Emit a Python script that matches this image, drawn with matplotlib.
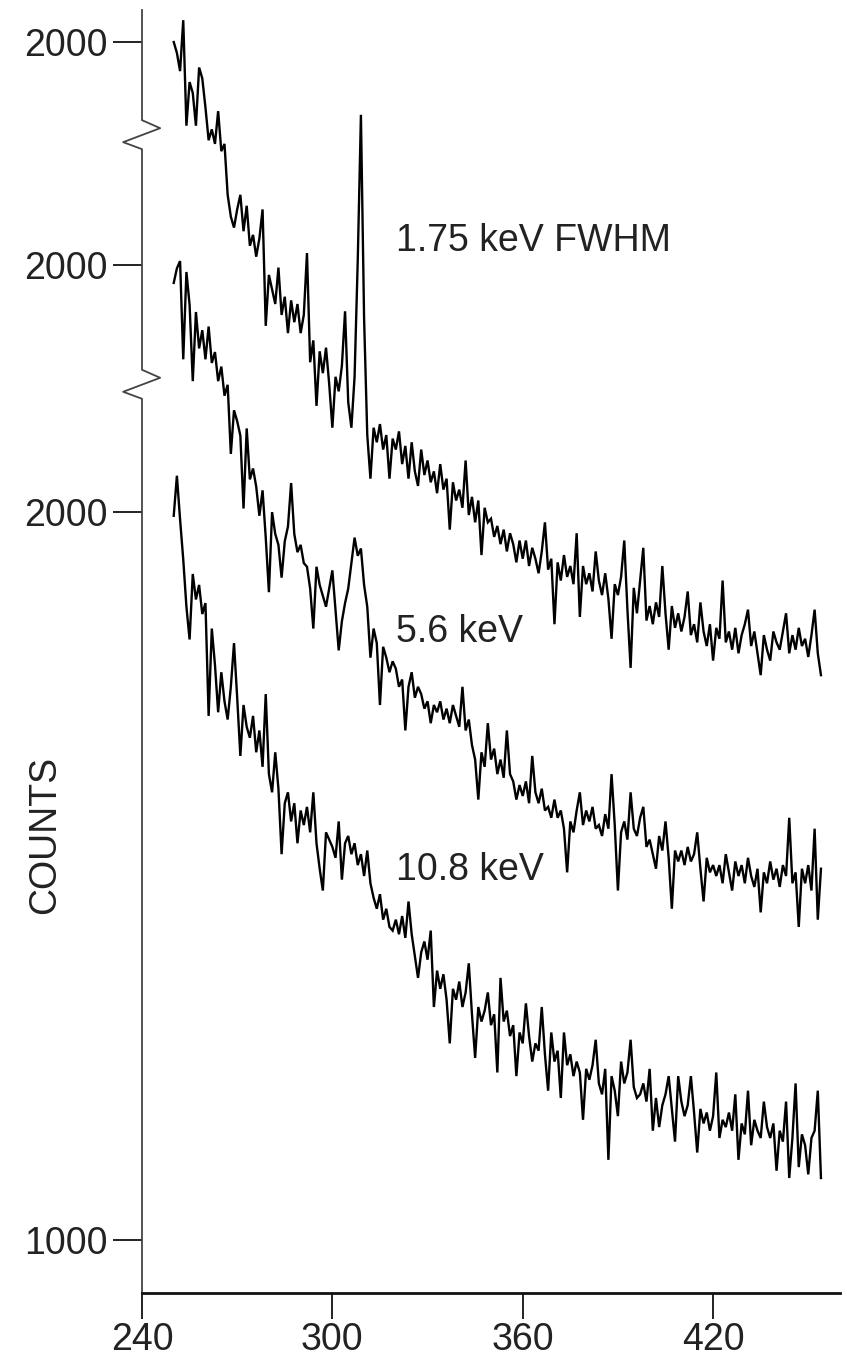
import numpy as np
import matplotlib
matplotlib.use("Agg")
import matplotlib.pyplot as plt
import matplotlib.transforms as mtransforms

plt.rcParams['font.family'] = ['Liberation Sans', 'DejaVu Sans']

# ---------------- data ----------------
channel_start = 250  # first channel of every trace (one value per channel)

counts_175 = [
    2000, 1985, 1960, 2030, 1885, 1945, 1930, 1885, 1965, 1950,
    1910, 1865, 1880, 1860, 1905, 1850, 1860, 1790, 1760, 1745,
    1770, 1790, 1740, 1775, 1720, 1735, 1705, 1730, 1770, 1610,
    1680, 1660, 1640, 1690, 1625, 1650, 1600, 1645, 1615, 1640,
    1600, 1625, 1710, 1560, 1590, 1500, 1575, 1545, 1580, 1530,
    1470, 1540, 1520, 1555, 1630, 1505, 1470, 1540, 1700, 1900,
    1620, 1460, 1400, 1470, 1450, 1475, 1440, 1460, 1400, 1455,
    1440, 1465, 1420, 1445, 1400, 1450, 1410, 1390, 1440, 1405,
    1425, 1395, 1410, 1380, 1420, 1385, 1400, 1330, 1395, 1370,
    1385, 1360, 1425, 1350, 1375, 1340, 1370, 1295, 1360, 1340,
    1345, 1320, 1335, 1310, 1330, 1300, 1325, 1310, 1285, 1315,
    1290, 1315, 1280, 1305, 1290, 1270, 1300, 1340, 1275, 1290,
    1200, 1285, 1260, 1295, 1265, 1280, 1255, 1325, 1210, 1280,
    1255, 1270, 1245, 1300, 1260, 1240, 1270, 1235, 1180, 1255,
    1240, 1265, 1315, 1220, 1140, 1250, 1215, 1260, 1305, 1205,
    1225, 1200, 1230, 1210, 1280, 1215, 1165, 1225, 1195, 1215,
    1190, 1210, 1245, 1185, 1200, 1175, 1230, 1190, 1170, 1200,
    1150, 1195, 1180, 1260, 1175, 1190, 1165, 1195, 1160, 1185,
    1200, 1220, 1170, 1190, 1160, 1130, 1185, 1165, 1150, 1190,
    1175, 1165, 1190, 1215, 1160, 1185, 1165, 1195, 1170, 1180,
    1155, 1185, 1220, 1160, 1130,
]

counts_56 = [
    1975, 1995, 2005, 1870, 1990, 1945, 1840, 1935, 1885, 1910,
    1870, 1915, 1865, 1880, 1840, 1860, 1820, 1835, 1740, 1800,
    1785, 1765, 1665, 1775, 1705, 1720, 1695, 1655, 1690, 1625,
    1550, 1660, 1630, 1615, 1570, 1620, 1640, 1700, 1630, 1605,
    1615, 1590, 1585, 1555, 1500, 1585, 1560, 1545, 1530, 1555,
    1580, 1525, 1470, 1510, 1535, 1555, 1590, 1625, 1600, 1610,
    1560, 1530, 1460, 1500, 1480, 1395, 1475, 1460, 1440, 1455,
    1445, 1420, 1430, 1360, 1420, 1440, 1405, 1420, 1410, 1390,
    1400, 1370, 1395, 1385, 1400, 1375, 1390, 1370, 1395, 1380,
    1365, 1420, 1360, 1375, 1340, 1320, 1265, 1330, 1310, 1370,
    1320, 1335, 1300, 1320, 1295, 1360, 1300, 1290, 1265, 1285,
    1270, 1290, 1260, 1325, 1275, 1260, 1280, 1250, 1255, 1240,
    1265, 1240, 1250, 1225, 1165, 1235, 1220, 1250, 1275, 1230,
    1250, 1235, 1255, 1225, 1230, 1215, 1245, 1225, 1300, 1230,
    1140, 1220, 1235, 1210, 1275, 1225, 1215, 1240, 1255, 1200,
    1210, 1190, 1170, 1215, 1195, 1235, 1185, 1115, 1195, 1180,
    1195, 1175, 1200, 1180, 1190, 1220, 1170, 1125, 1185, 1165,
    1175, 1160, 1175, 1150, 1190, 1165, 1140, 1180, 1160, 1175,
    1150, 1185, 1160, 1145, 1170, 1110, 1165, 1150, 1180, 1155,
    1170, 1145, 1175, 1160, 1240, 1150, 1165, 1090, 1170, 1150,
    1175, 1140, 1225, 1100, 1170,
]

counts_108 = [
    1995, 2050, 1990, 1935, 1870, 1825, 1915, 1880, 1900, 1860,
    1875, 1720, 1840, 1790, 1725, 1780, 1740, 1715, 1760, 1820,
    1745, 1665, 1735, 1705, 1690, 1720, 1670, 1700, 1650, 1750,
    1640, 1615, 1670, 1620, 1530, 1600, 1615, 1575, 1600, 1545,
    1590, 1570, 1595, 1560, 1615, 1545, 1510, 1480, 1560, 1550,
    1540, 1525, 1575, 1495, 1545, 1555, 1530, 1545, 1515, 1530,
    1500, 1535, 1490, 1470, 1455, 1475, 1440, 1455, 1430, 1425,
    1440, 1420, 1445, 1415, 1465, 1420, 1390, 1360, 1395, 1410,
    1385, 1425, 1320, 1370, 1345, 1365, 1330, 1270, 1345, 1330,
    1355, 1320, 1340, 1380, 1310, 1250, 1320, 1300, 1315, 1340,
    1295, 1310, 1230, 1360, 1300, 1315, 1280, 1295, 1225, 1285,
    1270, 1325, 1280, 1245, 1270, 1260, 1320, 1255, 1205, 1285,
    1245, 1260, 1195, 1285, 1240, 1255, 1225, 1245, 1230, 1165,
    1235, 1220, 1240, 1275, 1215, 1200, 1235, 1110, 1225, 1205,
    1170, 1245, 1215, 1230, 1275, 1210, 1195, 1200, 1215, 1190,
    1235, 1150, 1195, 1155, 1185, 1200, 1225, 1180, 1135, 1225,
    1190, 1170, 1185, 1225, 1175, 1120, 1180, 1160, 1175, 1150,
    1170, 1230, 1140, 1165, 1155, 1175, 1150, 1200, 1110, 1160,
    1145, 1205, 1130, 1165, 1150, 1140, 1190, 1155, 1140, 1160,
    1095, 1150, 1135, 1190, 1085, 1140, 1215, 1100, 1145, 1130,
    1090, 1140, 1150, 1205, 1085,
]

trace_labels = ["1.75 keV FWHM", "5.6 keV", "10.8 keV"]
trace_offsets = [646, 340, 0]          # vertical display offsets (counts)
x_ticks = [240, 300, 360, 420]
y_label_text = "COUNTS"

# ---------------- figure ----------------
W, H = 847, 1365
fig = plt.figure(figsize=(W / 100, H / 100), dpi=100)
ax = fig.add_axes([142 / W, 72 / H, 698 / W, 1283 / H])

series = [counts_175, counts_56, counts_108]
for counts, off in zip(series, trace_offsets):
    x = np.arange(channel_start, channel_start + len(counts))
    ax.plot(x, np.asarray(counts) + off, color='black', lw=1.7,
            solid_joinstyle='miter')

ax.set_xlim(240, 460)
y_lo, y_hi = 927, 2690
ax.set_ylim(y_lo, y_hi)

text_color = '#222222'
fs = 27

for s in ['top', 'right', 'left']:
    ax.spines[s].set_visible(False)
ax.spines['bottom'].set_linewidth(2.0)
ax.spines['bottom'].set_color('#111111')

# left axis line with break marks
trans = mtransforms.blended_transform_factory(ax.transAxes, ax.transData)
breaks = [2000 + trace_offsets[0] - 128, 2000 + trace_offsets[1] - 165]
px = 1.374  # counts per pixel
bx, by = [0], [y_hi]
for b in breaks:
    bx += [0, 0.026, -0.027, 0]
    by += [b + 15 * px, b + 7 * px, b - 7 * px, b - 14 * px]
bx.append(0)
by.append(y_lo)
ax.plot(bx, by, transform=trans, color='#444444', lw=1.3, clip_on=False)

# ticks
yticks = [1000] + [2000 + o for o in trace_offsets[::-1]]
ax.set_yticks(yticks)
ax.set_yticklabels(["1000", "2000", "2000", "2000"])
ax.set_xticks(x_ticks)
ax.set_xticklabels([str(t) for t in x_ticks])
ax.tick_params(axis='y', direction='out', length=21, width=1.4,
               color='#222222', pad=4, labelsize=fs, labelcolor=text_color)
ax.tick_params(axis='x', direction='out', length=19, width=1.4,
               color='#222222', pad=2, labelsize=fs, labelcolor=text_color)

# labels on traces
label_pos = [(320, 2373), (320, 1835), (320, 1508)]
for (lx, ly), txt in zip(label_pos, trace_labels):
    ax.text(lx, ly, txt, fontsize=fs, color=text_color, ha='left', va='center')

fig.text(45 / W, 1 - 835 / H, y_label_text, rotation=90, fontsize=fs,
         color=text_color, ha='center', va='center')

fig.savefig("out.png", dpi=100, facecolor='white')
